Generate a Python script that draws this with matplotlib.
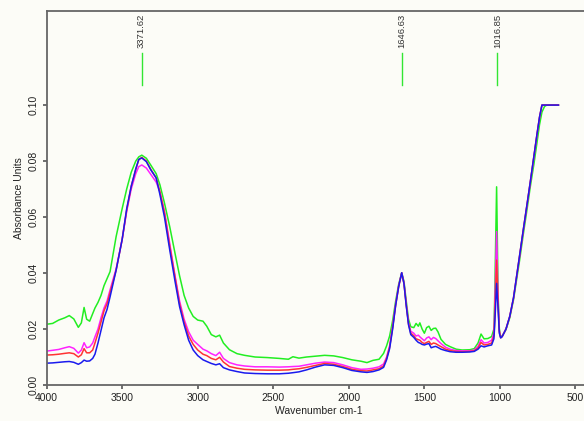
import matplotlib
matplotlib.use("Agg")
import matplotlib.pyplot as plt

plt.rcParams["font.family"] = ["Liberation Sans", "DejaVu Sans"]

# wavenumber grid (cm-1), high -> low
wavenumber = [
    4000, 3960, 3920, 3880, 3850, 3820, 3790, 3770, 3752, 3735, 3715, 3695, 3680,
    3660, 3640, 3620, 3600, 3580, 3540, 3500, 3470, 3440, 3410, 3390, 3370, 3340,
    3310, 3275, 3250, 3220, 3185, 3150, 3120, 3090, 3060, 3030, 3000, 2965, 2940,
    2910, 2880, 2855, 2830, 2790, 2740, 2690, 2620, 2540, 2460, 2400, 2370, 2330,
    2280, 2220, 2160, 2100, 2040, 1980, 1920, 1880, 1840, 1800, 1770, 1750, 1730,
    1710, 1690, 1670, 1650, 1635, 1620, 1605, 1590, 1570, 1555, 1540, 1530, 1515,
    1500, 1485, 1470, 1455, 1440, 1425, 1410, 1390, 1360, 1330, 1290, 1250, 1200,
    1170, 1145, 1125, 1105, 1080, 1055, 1040, 1035, 1022, 1012, 1004, 995, 985,
    960, 935, 910, 890, 870, 845, 820, 800, 775, 755, 738, 722, 705, 690, 613,
]

green = [
    .0217, .0220, .0232, .0240, .0248, .0236, .0206, .0222, .0277, .0235, .0228, .0255, .0275,
    .0295, .0320, .0355, .0380, .0405, .0530, .0630, .0700, .0760, .0800, .0815, .0821, .0810,
    .0785, .0755, .0715, .0650, .0565, .0470, .0390, .0320, .0275, .0245, .0232, .0228, .0210,
    .0180, .0172, .0178, .0150, .0126, .0112, .0106, .0100, .0098, .0095, .0092, .0101, .0096,
    .0100, .0103, .0106, .0104, .0098, .0090, .0085, .0080, .0088, .0092, .0113, .0140, .0175,
    .0230, .0300, .0360, .0401, .0370, .0300, .0235, .0208, .0205, .0220, .0210, .0222, .0200,
    .0185, .0205, .0210, .0195, .0202, .0203, .0190, .0163, .0145, .0137, .0128, .0125, .0126,
    .0130, .0150, .0182, .0165, .0166, .0173, .0200, .0300, .0708, .0320, .0200, .0172, .0175,
    .0198, .0240, .0305, .0375, .0445, .0540, .0630, .0705, .0790, .0865, .0930, .0975, .0995, .1000, .1000,
]

magenta = [
    .0121, .0124, .0127, .0133, .0137, .0131, .0114, .0125, .0151, .0133, .0136, .0150, .0172,
    .0200, .0240, .0275, .0300, .0340, .0415, .0520, .0620, .0700, .0755, .0780, .0786, .0775,
    .0752, .0725, .0690, .0620, .0505, .0390, .0300, .0235, .0190, .0160, .0145, .0128, .0122,
    .0112, .0105, .0117, .0095, .0080, .0072, .0068, .0065, .0065, .0064, .0065, .0066, .0067,
    .0072, .0078, .0082, .0080, .0072, .0062, .0056, .0057, .0060, .0065, .0075, .0100, .0140,
    .0210, .0290, .0355, .0401, .0365, .0290, .0222, .0192, .0185, .0175, .0178, .0172, .0165,
    .0158, .0168, .0172, .0162, .0170, .0166, .0158, .0148, .0135, .0128, .0123, .0122, .0122,
    .0125, .0138, .0162, .0150, .0152, .0160, .0185, .0260, .0548, .0300, .0195, .0170, .0174,
    .0200, .0245, .0310, .0385, .0458, .0553, .0645, .0720, .0815, .0893, .0955, .1000, .1000, .1000, .1000,
]

red = [
    .0107, .0108, .0110, .0113, .0115, .0112, .0100, .0108, .0130, .0115, .0115, .0125, .0150,
    .0185, .0225, .0265, .0290, .0330, .0410, .0520, .0625, .0710, .0770, .0805, .0813, .0800,
    .0770, .0740, .0690, .0615, .0495, .0385, .0290, .0225, .0175, .0145, .0125, .0110, .0105,
    .0095, .0090, .0099, .0082, .0066, .0060, .0056, .0054, .0053, .0053, .0054, .0056, .0058,
    .0063, .0070, .0077, .0074, .0066, .0056, .0051, .0050, .0054, .0058, .0068, .0095, .0135,
    .0205, .0285, .0352, .0400, .0362, .0285, .0218, .0185, .0176, .0165, .0162, .0160, .0152,
    .0148, .0152, .0156, .0145, .0150, .0148, .0143, .0137, .0128, .0123, .0120, .0119, .0120,
    .0122, .0132, .0152, .0143, .0145, .0150, .0175, .0230, .0446, .0285, .0190, .0169, .0173,
    .0200, .0245, .0312, .0387, .0462, .0556, .0648, .0722, .0818, .0895, .0957, .1000, .1000, .1000, .1000,
]

blue = [
    .0078, .0079, .0081, .0083, .0084, .0081, .0074, .0080, .0089, .0085, .0086, .0095, .0110,
    .0150, .0195, .0240, .0270, .0315, .0410, .0520, .0630, .0710, .0772, .0806, .0811, .0798,
    .0768, .0740, .0680, .0600, .0482, .0370, .0280, .0215, .0160, .0125, .0105, .0090, .0084,
    .0077, .0072, .0076, .0062, .0054, .0048, .0043, .0041, .0040, .0040, .0042, .0044, .0047,
    .0054, .0064, .0072, .0070, .0062, .0052, .0047, .0045, .0048, .0054, .0063, .0090, .0130,
    .0200, .0285, .0352, .0401, .0362, .0283, .0215, .0180, .0170, .0160, .0152, .0150, .0145,
    .0143, .0146, .0148, .0133, .0136, .0138, .0134, .0128, .0123, .0119, .0117, .0117, .0118,
    .0120, .0128, .0140, .0136, .0140, .0143, .0165, .0210, .0363, .0270, .0185, .0168, .0173,
    .0200, .0245, .0312, .0387, .0462, .0556, .0648, .0722, .0818, .0895, .0957, .1000, .1000, .1000, .1000,
]

peak_labels = ["3371.62", "1646.63", "1016.85"]
peak_positions = [3371.62, 1646.63, 1016.85]

x_ticks = [4000, 3500, 3000, 2500, 2000, 1500, 1000, 500]
y_ticks = [0.00, 0.02, 0.04, 0.06, 0.08, 0.10]

bg = "#fcfcf7"
fig = plt.figure(figsize=(5.84, 4.21), dpi=100, facecolor=bg)
ax = fig.add_axes([0.0798, 0.0855, 0.9315, 0.889], facecolor=bg)

for series, col in [(green, "#22ee22"), (magenta, "#ff22ff"), (red, "#ff3333"), (blue, "#1a1aee")]:
    ax.plot(wavenumber, series, color=col, lw=1.1)

# peak pick markers
for pos, lab in zip(peak_positions, peak_labels):
    ax.plot([pos, pos], [0.1071, 0.1186], color="#33e633", lw=1.0)
    ax.text(pos, 0.1205, lab, rotation=90, ha="center", va="bottom", fontsize=6.8, color="#333333")

ax.set_xlim(4000, 400)
ax.set_ylim(0, 0.1337)
ax.set_xticks(x_ticks)
ax.set_yticks(y_ticks)
ax.set_yticklabels([f"{v:.2f}" for v in y_ticks], rotation=90, va="center")
ax.tick_params(labelsize=7.5, colors="#555555", labelcolor="#222222", length=3, width=1.2,
               direction="out", pad=3)
for s in ["left", "bottom", "top"]:
    ax.spines[s].set_color("#666666")
    ax.spines[s].set_linewidth(1.3)
ax.spines["right"].set_visible(False)

ax.set_xlabel("Wavenumber cm-1", fontsize=7.5, color="#222222", labelpad=2)
ax.set_ylabel("Absorbance Units", fontsize=7.5, color="#222222", labelpad=3)

fig.savefig("out.png", dpi=100, facecolor=bg)
